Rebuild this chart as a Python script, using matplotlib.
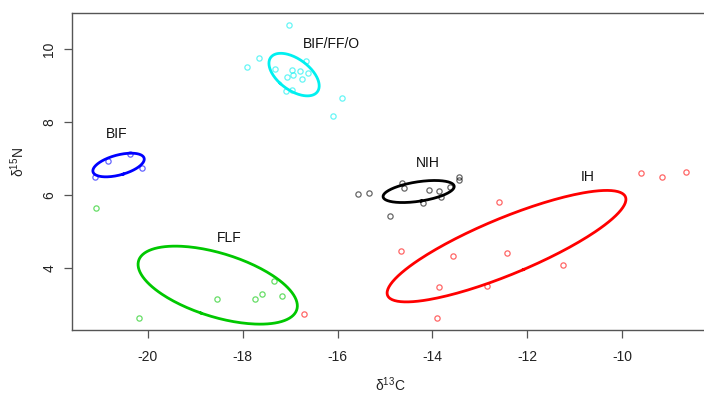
import numpy as np
import matplotlib
matplotlib.use("Agg")
import matplotlib.pyplot as plt

plt.rcParams['font.family'] = ['Liberation Sans', 'DejaVu Sans']
plt.rcParams['mathtext.fontset'] = 'custom'
plt.rcParams['mathtext.rm'] = 'Liberation Sans'

# d13C / d15N values per group
groups = ["BIF", "BIF/FF/O", "NIH", "IH", "FLF"]
colors = {"BIF": "#0000ff", "BIF/FF/O": "#00f0f0", "NIH": "#000000",
          "IH": "#ff0000", "FLF": "#00c800"}

bif_c = [-21.11, -20.84, -20.38, -20.13]
bif_n = [6.50, 6.94, 7.12, 6.76]

bfo_c = [-17.03, -17.65, -17.91, -17.32, -16.66, -16.95, -17.06, -16.93,
         -16.79, -16.63, -16.76, -17.09, -16.97, -15.90, -16.10]
bfo_n = [10.68, 9.77, 9.51, 9.46, 9.67, 9.43, 9.25, 9.31,
         9.41, 9.36, 9.19, 8.86, 8.88, 8.67, 8.17]

nih_c = [-15.56, -15.33, -14.64, -14.61, -14.89, -14.20,
         -14.08, -13.86, -13.82, -13.63, -13.44, -13.44]
nih_n = [6.03, 6.06, 6.35, 6.21, 5.44, 5.80,
         6.14, 6.11, 5.95, 6.24, 6.50, 6.42]

ih_c = [-9.61, -9.16, -8.66, -12.59, -14.67, -13.57,
        -12.42, -11.26, -13.86, -12.86, -13.91, -16.71]
ih_n = [6.61, 6.49, 6.64, 5.82, 4.48, 4.34,
        4.41, 4.10, 3.49, 3.52, 2.64, 2.74]

flf_c = [-21.10, -20.18, -18.55, -17.75, -17.59, -17.33, -17.18]
flf_n = [5.65, 2.65, 3.15, 3.15, 3.29, 3.64, 3.24]

data = {"BIF": (bif_c, bif_n), "BIF/FF/O": (bfo_c, bfo_n),
        "NIH": (nih_c, nih_n), "IH": (ih_c, ih_n), "FLF": (flf_c, flf_n)}

# group label positions
label_pos = {"BIF": (-20.66, 7.68), "BIF/FF/O": (-16.12, 10.15),
             "NIH": (-14.09, 6.89), "IH": (-10.74, 6.50), "FLF": (-18.28, 4.82)}

x_ticks = [-20, -18, -16, -14, -12, -10]
y_ticks = [4, 6, 8, 10]


def sea_c(x, y, npts=200):
    # small-sample corrected standard ellipse
    x = np.asarray(x)
    y = np.asarray(y)
    n = len(x)
    xy = np.vstack([x - x.mean(), y - y.mean()])
    cov = xy @ xy.T / (n - 2)
    vals, vecs = np.linalg.eigh(cov)
    t = np.linspace(0, 2 * np.pi, npts)
    circ = np.vstack([np.cos(t), np.sin(t)]) * np.sqrt(vals)[:, None]
    pts = vecs @ circ
    return pts[0] + x.mean(), pts[1] + y.mean()


def main():
    f = plt.figure(figsize=(7.04, 3.98), dpi=100)
    ax = f.add_axes([0.1016, 0.170, 0.9064, 0.798])

    for g in groups:
        cx, cy = data[g]
        ax.plot(cx, cy, 'o', ms=3.8, mfc='none', mec=colors[g], mew=0.9,
                alpha=0.6)
    for g in groups:
        cx, cy = data[g]
        ex, ey = sea_c(cx, cy)
        ax.plot(ex, ey, '-', color=colors[g], lw=2.0)
        lx, ly = label_pos[g]
        ax.text(lx, ly, g, ha='center', va='center', fontsize=10,
                color='#111111')

    ax.set_xlim(-21.606, -8.16)
    ax.set_ylim(2.30, 11.003)
    ax.set_xticks(x_ticks)
    ax.set_xticklabels([str(v) for v in x_ticks])
    ax.set_yticks(y_ticks)
    ax.set_yticklabels([str(v) for v in y_ticks], rotation=90, va='center')

    for s in ax.spines.values():
        s.set_color('#555555')
        s.set_linewidth(1.0)
    ax.tick_params(axis='both', length=6, width=0.9, color='#555555',
                   labelsize=10, labelcolor='#222222')
    ax.tick_params(axis='x', pad=8)
    ax.tick_params(axis='y', pad=5)

    ax.set_xlabel(r'δ$^{\mathregular{13}}$C', fontsize=10, color='#222222')
    ax.set_ylabel(r'δ$^{\mathregular{15}}$N', fontsize=10, color='#222222')
    ax.xaxis.set_label_coords((390.5 - 71.5) / 638.1, -(385 - 330.3) / 317.6)
    ax.yaxis.set_label_coords((17.5 - 71.5) / 638.1, (330.3 - 162) / 317.6)
    ax.xaxis.label.set_va('center')
    ax.yaxis.label.set_va('center')

    f.savefig("out.png", dpi=100)


if __name__ == "__main__":
    main()
